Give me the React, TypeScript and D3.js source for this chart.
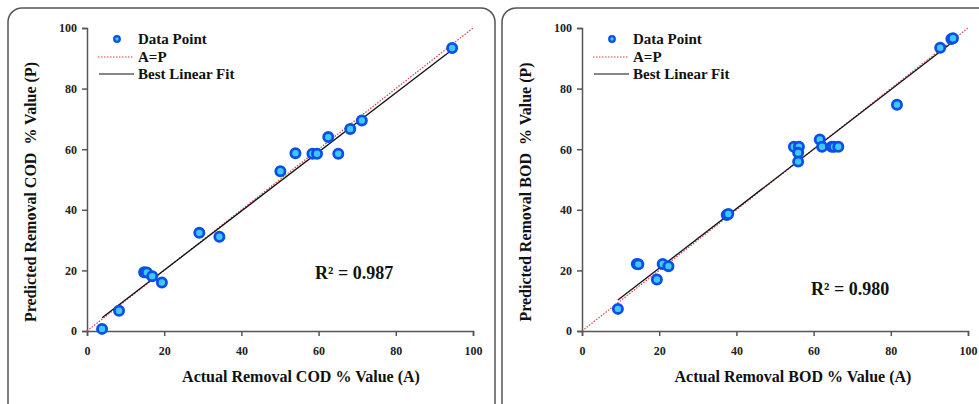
import React, { useEffect, useRef } from "react";
import * as d3 from "d3";

// COD panel (actual vs predicted removal %)
const codActual = [3.9, 8.3, 14.8, 15.5, 16.9, 19.4, 29.1, 34.3, 50.1, 54.0, 58.4, 59.6, 62.5, 65.1, 68.2, 71.2, 94.6];
const codPredicted = [0.7, 6.7, 19.4, 19.3, 18.1, 16.0, 32.4, 31.1, 52.7, 58.7, 58.5, 58.5, 64.0, 58.5, 66.7, 69.5, 93.4];
const codFit = [0.975, 0.59]; // slope, intercept
const codR2 = "R² = 0.987";

// BOD panel
const bodActual = [9.3, 14.2, 14.6, 19.4, 20.9, 22.4, 37.5, 37.9, 54.9, 56.2, 56.0, 56.0, 61.6, 62.2, 64.7, 65.3, 66.4, 81.6, 92.8, 95.7, 96.1];
const bodPredicted = [7.3, 22.1, 22.0, 17.0, 22.1, 21.4, 38.3, 38.6, 60.8, 60.8, 58.8, 55.9, 63.2, 60.8, 60.8, 60.8, 60.8, 74.7, 93.5, 96.4, 96.6];
const bodFit = [0.982, 1.08];
const bodR2 = "R² = 0.980";

const ticks = [0, 20, 40, 60, 80, 100];
const legendLabels = ["Data Point", "A=P", "Best Linear Fit"];

const FONT = "Liberation Serif, Times New Roman, serif";

type PanelProps = {
  ox: number;
  actual: number[];
  predicted: number[];
  fit: number[];
  r2: string;
  r2Pos: [number, number];
  param: string;
  titleX: number;
};

function Panel({ ox, actual, predicted, fit, r2, r2Pos, param, titleX }: PanelProps) {
  const ref = useRef<SVGGElement>(null);
  const left = ox + 79;
  const plotW = 386;
  const top = 28;
  const bottom = 331;

  useEffect(() => {
    const g = d3.select(ref.current);
    g.selectAll("*").remove();
    const x = d3.scaleLinear().domain([0, 100]).range([left, left + plotW]);
    const y = d3.scaleLinear().domain([0, 100]).range([bottom, top]);

    const xAxis = g
      .append("g")
      .attr("transform", `translate(0,${bottom})`)
      .call(d3.axisBottom(x).tickValues(ticks).tickSize(5).tickPadding(10));
    const yAxis = g
      .append("g")
      .attr("transform", `translate(${left},0)`)
      .call(d3.axisLeft(y).tickValues(ticks).tickSize(5).tickPadding(5));
    [xAxis, yAxis].forEach((a) => {
      a.attr("font-family", null).attr("font-size", null);
      a.selectAll("path,line").attr("stroke", "#555").attr("stroke-width", 1.5);
      a.selectAll("text")
        .style("font-family", FONT)
        .style("font-weight", "bold")
        .style("font-size", "12px")
        .attr("fill", "#222");
    });

    // A=P line
    g.append("line")
      .attr("x1", x(0))
      .attr("y1", y(0))
      .attr("x2", x(100))
      .attr("y2", y(100))
      .attr("stroke", "#d04040")
      .attr("stroke-width", 1.2)
      .attr("stroke-dasharray", "1.5,1.5");

    // best linear fit
    const [lo, hi] = d3.extent(actual) as [number, number];
    g.append("line")
      .attr("x1", x(lo))
      .attr("y1", y(fit[0] * lo + fit[1]))
      .attr("x2", x(hi))
      .attr("y2", y(fit[0] * hi + fit[1]))
      .attr("stroke", "#111")
      .attr("stroke-width", 1.3);

    g.append("g")
      .selectAll("circle")
      .data(actual.map((a, i) => [a, predicted[i]]))
      .join("circle")
      .attr("cx", (d) => x(d[0]))
      .attr("cy", (d) => y(d[1]))
      .attr("r", 4.6)
      .attr("fill", "#3ec8ff")
      .attr("stroke", "#0a4fe6")
      .attr("stroke-width", 2.8);

    // legend
    const lg = g.append("g").attr("transform", `translate(${left + 10},0)`);
    lg.append("circle")
      .attr("cx", 20)
      .attr("cy", 39)
      .attr("r", 2.8)
      .attr("fill", "#3ec8ff")
      .attr("stroke", "#0a4fe6")
      .attr("stroke-width", 2.2);
    lg.append("line")
      .attr("x1", 1).attr("x2", 37).attr("y1", 57).attr("y2", 57)
      .attr("stroke", "#d04040").attr("stroke-width", 1.2).attr("stroke-dasharray", "1.5,1.5");
    lg.append("line")
      .attr("x1", 2).attr("x2", 37).attr("y1", 74).attr("y2", 74)
      .attr("stroke", "#111").attr("stroke-width", 1.2);
    lg.selectAll("text")
      .data(legendLabels)
      .join("text")
      .attr("x", 41)
      .attr("y", (d, i) => 44 + i * 17.5)
      .style("font-family", FONT)
      .style("font-weight", "bold")
      .style("font-size", "15px")
      .attr("fill", "#111")
      .text((d) => d);

    g.append("text")
      .attr("x", r2Pos[0])
      .attr("y", r2Pos[1])
      .style("font-family", FONT)
      .style("font-weight", "bold")
      .style("font-size", "18px")
      .attr("fill", "#111")
      .text(r2);

    g.append("text")
      .attr("x", titleX)
      .attr("y", 382)
      .attr("text-anchor", "middle")
      .style("font-family", FONT)
      .style("font-weight", "bold")
      .style("font-size", "16px")
      .attr("fill", "#111")
      .text(`Actual Removal ${param} % Value (A)`);

    g.append("text")
      .attr("transform", `translate(${ox + 28},${192}) rotate(-90)`)
      .attr("text-anchor", "middle")
      .style("font-family", FONT)
      .style("font-weight", "bold")
      .style("font-size", "16px")
      .style("white-space", "pre")
      .attr("fill", "#111")
      .text(`Predicted Removal ${param}  % Value (P)`);
  }, []);

  return <g ref={ref} />;
}

export default function App() {
  return (
    <svg width={979} height={404} style={{ position: "absolute", left: 0, top: 0, background: "#fff" }}>
      <rect x={8} y={8} width={487} height={420} rx={14} fill="none" stroke="#555" strokeWidth={1.5} />
      <rect x={502} y={8} width={490} height={420} rx={14} fill="none" stroke="#555" strokeWidth={1.5} />
      <Panel ox={8} actual={codActual} predicted={codPredicted} fit={codFit} r2={codR2} r2Pos={[315, 279]} param="COD" titleX={301} />
      <Panel ox={503} actual={bodActual} predicted={bodPredicted} fit={bodFit} r2={bodR2} r2Pos={[811, 295]} param="BOD" titleX={793} />
    </svg>
  );
}
